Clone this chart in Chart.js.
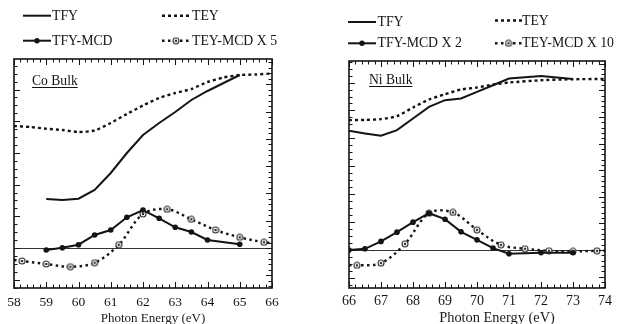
<!DOCTYPE html>
<html><head><meta charset="utf-8">
<script src="https://cdn.jsdelivr.net/npm/chart.js@4/dist/chart.umd.min.js"></script>
<style>
html,body{margin:0;padding:0;background:#fff;width:617px;height:324px;overflow:hidden;}
.panel{position:absolute;top:0;height:324px;}
.xt{position:absolute;font-family:"Liberation Serif","Times New Roman",serif;color:#1a1a1a;white-space:nowrap;transform:translate(-50%,-50%);}
</style></head><body>
<div class="panel" style="left:0;width:308px"><canvas id="c1" width="308" height="324"></canvas></div>
<div class="panel" style="left:310px;width:307px"><canvas id="c2" width="307" height="324"></canvas></div>
<div class="xt" style="left:153px;top:318px;font-size:13px">Photon Energy (eV)</div>
<div class="xt" style="left:497px;top:317px;font-size:14.4px">Photon Energy (eV)</div>
<script>
// ---------- Co bulk (left panel) ----------
const coTfyX    = [59, 59.5, 60, 60.5, 61, 61.5, 62, 62.5, 63, 63.5, 64, 64.5, 65];
const coTfy     = [49, 48, 49.3, 58, 75, 95, 113, 125, 136, 148, 157, 165, 173];
const coTeyX    = [58, 58.5, 59, 59.5, 60, 60.5, 61, 61.5, 62, 62.5, 63, 63.5, 64, 64.5, 65, 65.5, 66];
const coTey     = [122, 121, 119.3, 118, 116, 117.5, 125, 134, 142.5, 150, 155, 159, 166, 170.5, 173, 173.5, 174.5];
const coTfyMcdX = [59, 59.5, 60, 60.5, 61, 61.5, 62, 62.5, 63, 63.5, 64, 65];
const coTfyMcd  = [-2, 0.3, 3.3, 13, 18, 30.7, 38, 29.7, 20.7, 16, 8, 3.7];
const coTeyMcdX = [58, 58.25, 59, 59.75, 60.5, 61.25, 62, 62.75, 63.5, 64.25, 65, 65.75, 66];
const coTeyMcd  = [-12, -13, -16, -18.7, -14.7, 3.3, 34, 38.7, 28.7, 18, 10.7, 5.7, 5];
const coLabels  = ["TFY", "TEY", "TFY-MCD", "TEY-MCD X 5"];
const coXTicks  = [58, 59, 60, 61, 62, 63, 64, 65, 66];

// ---------- Ni bulk (right panel) ----------
const niTfyX    = [66, 66.5, 67, 67.5, 68, 68.5, 69, 69.5, 70, 70.5, 71, 72, 73];
const niTfy     = [119.6, 117, 114.6, 120.3, 132, 143.6, 150.3, 152, 158.6, 165.3, 172, 174.6, 171.6];
const niTeyX    = [66, 66.5, 67, 67.5, 68, 68.5, 69, 69.5, 70, 70.5, 71, 72, 73, 74];
const niTey     = [130.3, 130.5, 131.3, 134.3, 143, 151, 156.3, 161, 163, 166, 168, 170.3, 171.3, 171.6];
const niTfyMcdX = [66, 66.5, 67, 67.5, 68, 68.5, 69, 69.5, 70, 70.5, 71, 72, 73];
const niTfyMcd  = [0, 1.3, 8.7, 18, 28, 37, 31, 18.3, 10.3, 2, -3.7, -2.7, -2.7];
const niTeyMcdX = [66, 66.25, 67, 67.75, 68.5, 69.25, 70, 70.75, 71.5, 72.25, 73, 73.75, 74];
const niTeyMcd  = [-15, -15.3, -13, 6.3, 37, 37.7, 20.3, 5.3, 1.3, -0.7, -1.3, -0.7, -0.7];
const niLabels  = ["TFY", "TEY", "TFY-MCD X 2", "TEY-MCD X 10"];
const niXTicks  = [66, 67, 68, 69, 70, 71, 72, 73, 74];

const INK = '#141414';
const FONT = '"Liberation Serif","Times New Roman",serif';

const ring = document.createElement('canvas');
ring.width = 8; ring.height = 8;
(function(){
  const g = ring.getContext('2d');
  g.beginPath(); g.arc(4,4,3,0,Math.PI*2); g.fillStyle='#fff'; g.fill();
  g.lineWidth=1.1; g.strokeStyle='#333'; g.stroke();
  g.beginPath(); g.arc(4,4,1.3,0,Math.PI*2); g.fillStyle='#333'; g.fill();
})();

function zip(xs, ys){ return xs.map((x,i)=>({x:x, y:ys[i]})); }

const deco = {
  id:'deco',
  afterDatasetsDraw(chart){
    const o = chart.options.plugins.deco;
    const ctx = chart.ctx, ca = chart.chartArea;
    const xs = chart.scales.x, ys = chart.scales.y;
    ctx.save();
    ctx.strokeStyle = INK; ctx.lineWidth = 1;
    ctx.beginPath();
    for (let k = 0; k <= (xs.max - xs.min) * 5 + 1e-6; k++) {
      const v = xs.min + k * 0.2;
      const p = Math.round(xs.getPixelForValue(v)) + 0.5;
      const len = (k % 5 === 0) ? 6 : 3.5;
      ctx.moveTo(p, ca.bottom); ctx.lineTo(p, ca.bottom - len);
      ctx.moveTo(p, ca.top); ctx.lineTo(p, ca.top + len);
    }
    function yt(step, sub, xEdge, dir){
      const s = step / sub;
      for (let k = Math.ceil(ys.min / s); k * s <= ys.max; k++) {
        const p = Math.round(ys.getPixelForValue(k * s)) + 0.5;
        const len = (k % sub === 0) ? 6 : 3.5;
        ctx.moveTo(xEdge, p); ctx.lineTo(xEdge + dir * len, p);
      }
    }
    yt(o.yl, o.yls, ca.left, 1);
    yt(o.yr, o.yrs, ca.right, -1);
    ctx.stroke();
    ctx.lineWidth = 1.6;
    ctx.strokeRect(ca.left, ca.top, ca.right - ca.left, ca.bottom - ca.top);
    ctx.fillStyle = INK;
    ctx.font = o.tagSize + 'px ' + FONT;
    ctx.textBaseline = 'middle'; ctx.textAlign = 'left';
    ctx.fillText(o.tag, o.tagX, o.tagY);
    const w = ctx.measureText(o.tag).width;
    ctx.lineWidth = 1;
    ctx.beginPath(); ctx.moveTo(o.tagX, o.tagY + 6.5); ctx.lineTo(o.tagX + w, o.tagY + 6.5); ctx.stroke();
    ctx.restore();
  },
  afterDraw(chart){
    const o = chart.options.plugins.deco;
    const ctx = chart.ctx;
    ctx.save();
    o.leg.forEach((L, i) => {
      const d = chart.data.datasets[i];
      ctx.strokeStyle = INK; ctx.lineWidth = d.borderWidth;
      ctx.setLineDash(d.borderDash || []);
      ctx.beginPath(); ctx.moveTo(L[0], L[2]); ctx.lineTo(L[1], L[2]); ctx.stroke();
      ctx.setLineDash([]);
      const mx = (L[0] + L[1]) / 2;
      if (i === 2) { ctx.fillStyle = INK; ctx.beginPath(); ctx.arc(mx, L[2], 2.7, 0, Math.PI*2); ctx.fill(); }
      if (i === 3) { ctx.drawImage(ring, mx - 4, L[2] - 4); }
      ctx.fillStyle = INK; ctx.font = o.legSize + 'px ' + FONT;
      ctx.textBaseline = 'middle'; ctx.textAlign = 'left';
      ctx.fillText(d.label, L[3], L[2] + 0.5);
    });
    ctx.restore();
  }
};

function build(id, o){
  const n3 = o.teyMcdX.length;
  return new Chart(document.getElementById(id), {
    type: 'line',
    data: { datasets: [
      { label:o.labels[0], data:zip(o.tfyX,o.tfy), borderColor:INK, borderWidth:2, pointRadius:0, tension:0 },
      { label:o.labels[1], data:zip(o.teyX,o.tey), borderColor:INK, borderWidth:2.4, borderDash:[3,3], pointRadius:0, tension:0.2 },
      { label:o.labels[2], data:zip(o.tfyMcdX,o.tfyMcd), borderColor:INK, borderWidth:2, pointRadius:2.8,
        pointBackgroundColor:INK, pointBorderWidth:0, tension:0 },
      { label:o.labels[3], data:zip(o.teyMcdX,o.teyMcd), borderColor:INK, borderWidth:2.4, borderDash:[2.5,3.5],
        pointStyle:ring, pointRadius:(c)=> (c.dataIndex===0 || c.dataIndex===n3-1) ? 0 : 3, tension:0.35 }
    ]},
    options: {
      responsive:false, animation:false, devicePixelRatio:1,
      layout:{ padding:{ top:o.top, right:o.right, left:0, bottom:0 } },
      plugins:{ legend:{display:false}, tooltip:{enabled:false}, deco:o.deco },
      scales:{
        x:{ type:'linear', min:o.xTicks[0], max:o.xTicks[o.xTicks.length-1],
            afterBuildTicks:(s)=>{ s.ticks = o.xTicks.map(v=>({value:v})); },
            afterFit:(s)=>{ s.height = 324 - o.bottom; },
            grid:{display:false, drawTicks:false}, border:{display:false},
            ticks:{ font:{family:FONT, size:o.tickSize}, color:INK, padding:o.tickPad, maxRotation:0, autoSkip:false } },
        y:{ type:'linear', min:o.ymin, max:o.ymax,
            afterBuildTicks:(s)=>{ s.ticks = [{value:0}]; },
            afterFit:(s)=>{ s.width = o.left; },
            grid:{ color:'#333', lineWidth:1, drawTicks:false }, border:{display:false},
            ticks:{ display:false } }
      }
    },
    plugins:[deco]
  });
}

build('c1', {
  tfyX:coTfyX, tfy:coTfy, teyX:coTeyX, tey:coTey, tfyMcdX:coTfyMcdX, tfyMcd:coTfyMcd,
  teyMcdX:coTeyMcdX, teyMcd:coTeyMcd, labels:coLabels, xTicks:coXTicks,
  top:59, right:36, left:14, bottom:288, ymin:-40, ymax:189, tickSize:13.5, tickPad:6,
  deco:{ yl:31.7, yls:4, yr:27.3, yrs:5, tag:'Co Bulk', tagX:32, tagY:81, tagSize:13.6, legSize:13.8,
         leg:[[23,51,15.7,52],[162,190,15.7,192],[23,51,40.7,52],[162,190,40.7,192]] }
});
build('c2', {
  tfyX:niTfyX, tfy:niTfy, teyX:niTeyX, tey:niTey, tfyMcdX:niTfyMcdX, tfyMcd:niTfyMcd,
  teyMcdX:niTeyMcdX, teyMcd:niTeyMcd, labels:niLabels, xTicks:niXTicks,
  top:61, right:11, left:39, bottom:288, ymin:-38, ymax:189.6, tickSize:14, tickPad:5,
  deco:{ yl:28, yls:4, yr:26.7, yrs:5, tag:'Ni Bulk', tagX:59, tagY:80, tagSize:13.6, legSize:13.8,
         leg:[[38,66,22,67.5],[185,212,20.5,212],[38,66,43.3,67.5],[185,212,43.3,212]] }
});
</script>
</body></html>
